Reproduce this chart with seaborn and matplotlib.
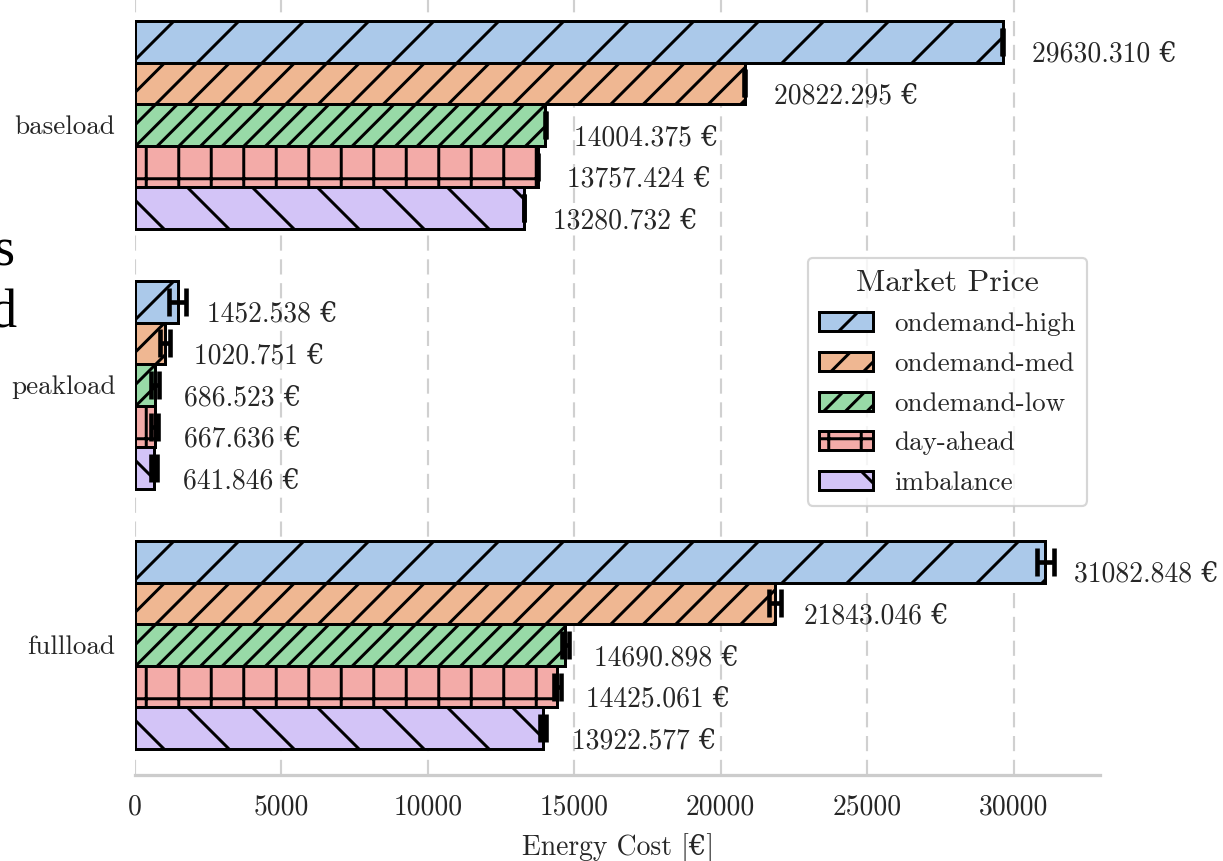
import matplotlib
matplotlib.use("Agg")
import matplotlib.pyplot as plt
from matplotlib.patches import Patch
import pandas as pd
import seaborn as sns

# Load profiles and market price scenarios
profiles = ["baseload", "peakload", "fullload"]
markets = ["ondemand-high", "ondemand-med", "ondemand-low", "day-ahead", "imbalance"]

# Mean energy cost per profile (rows follow `markets`)
baseload_cost = [29630.310, 20822.295, 14004.375, 13757.424, 13280.732]
peakload_cost = [1452.538, 1020.751, 686.523, 667.636, 641.846]
fullload_cost = [31082.848, 21843.046, 14690.898, 14425.061, 13922.577]

# Half-width of the error bars
baseload_err = [20, 15, 15, 15, 15]
peakload_err = [300, 170, 130, 130, 110]
fullload_err = [300, 210, 125, 125, 100]

hatches = ["//", "////", "//////", "++", "\\\\"]
xticks = [0, 5000, 10000, 15000, 20000, 25000, 30000]

costs = {"baseload": baseload_cost, "peakload": peakload_cost, "fullload": fullload_cost}
errs = {"baseload": baseload_err, "peakload": peakload_err, "fullload": fullload_err}

rows = []
for p in profiles:
    for m, c, e in zip(markets, costs[p], errs[p]):
        rows.append({"profile": p, "market": m, "cost": c, "err": e})
df = pd.DataFrame(rows)

sns.set_theme(style="whitegrid")
plt.rcParams["font.family"] = ["cmr10", "DejaVu Serif"]
plt.rcParams["axes.formatter.use_mathtext"] = True
plt.rcParams["mathtext.fontset"] = "cm"
plt.rcParams["hatch.linewidth"] = 0.55
plt.rcParams["lines.scale_dashes"] = False

DPI = 390
W, H = 1223, 861
fig = plt.figure(figsize=(W / DPI, H / DPI), dpi=DPI)
ax = fig.add_axes([135 / W, 1 - 775 / H, 965 / W, 780 / H])

FS = 5.1
TXT = "#262626"

sns.barplot(
    data=df, y="profile", x="cost", hue="market",
    order=profiles, hue_order=markets, palette="pastel",
    errorbar=None, edgecolor="black", linewidth=0.55,
    orient="h", legend=False, ax=ax,
)

handles = []
for container, hatch, m in zip(ax.containers, hatches, markets):
    sub = df[df["market"] == m].set_index("profile").loc[profiles]
    ys = []
    for patch in container.patches:
        patch.set_hatch(hatch)
        ys.append(patch.get_y() + patch.get_height() / 2)
    ax.errorbar(
        sub["cost"].values, ys, xerr=sub["err"].values, fmt="none",
        ecolor="black", elinewidth=0.85, capsize=2.6, capthick=0.85, zorder=4,
    )
    for v, y in zip(sub["cost"].values, ys):
        ax.annotate(
            f"{v:.3f} €", xy=(v, y), xytext=(5.35, -2.4),
            textcoords="offset points", va="center", ha="left",
            fontsize=FS, color=TXT,
        )
    handles.append(Patch(facecolor=container.patches[0].get_facecolor(),
                         edgecolor="black", hatch=hatch, linewidth=0.55, label=m))

ax.set_xlim(0, 32950)
ax.set_ylim(len(profiles) - 0.5, -0.5)
ax.set_xticks(xticks)
ax.set_xticklabels([str(t) for t in xticks])
ax.tick_params(axis="both", length=0, labelsize=FS, colors=TXT)
ax.tick_params(axis="y", labelsize=5.0)
ax.tick_params(axis="x", pad=3.6)
ax.tick_params(axis="y", pad=3.6)
ax.set_ylabel("")
ax.set_xlabel("Energy Cost [€]", fontsize=FS, color=TXT, labelpad=2.3)

ax.grid(axis="y", visible=False)
ax.grid(axis="x", color="#d0d0d0", linestyle=(0, (2.8, 1.6)), linewidth=0.4)
ax.set_axisbelow(True)
sns.despine(ax=ax, left=True)
ax.spines["bottom"].set_color("#cccccc")
ax.spines["bottom"].set_linewidth(0.6)

leg = ax.legend(
    handles=handles, title="Market Price", loc="upper right",
    bbox_to_anchor=(0.9865, 0.663), borderaxespad=0, fontsize=5.0,
    title_fontsize=5.9, frameon=True, fancybox=True, labelspacing=0.58,
    borderpad=0.4, handletextpad=0.8,
)
leg.get_frame().set_edgecolor("#cccccc")
leg.get_frame().set_linewidth(0.4)

# Word endings from the surrounding page at the left margin
fig.text(15 / W, 1 - 265 / H, "s", ha="right", va="baseline",
         fontsize=10, family="Liberation Serif", color="black")
fig.text(17 / W, 1 - 327 / H, "d", ha="right", va="baseline",
         fontsize=10, family="Liberation Serif", color="black")

fig.savefig("out.png", dpi=DPI)
